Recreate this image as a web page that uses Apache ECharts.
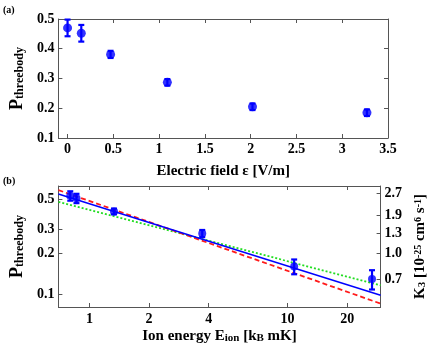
<!DOCTYPE html>
<html>
<head>
<meta charset="utf-8">
<script src="https://cdn.jsdelivr.net/npm/echarts@6/dist/echarts.min.js"></script>
<style>
  html, body { margin: 0; padding: 0; background: #fff; }
  #main { width: 436px; height: 349px; }
</style>
</head>
<body>
<div id="main"></div>
<script>
// panel (a): P_threebody against electric field
var fieldE = [0, 0.15, 0.47, 1.09, 2.02, 3.27];
var pField = [0.470, 0.452, 0.381, 0.287, 0.205, 0.185];
var errField = [0.028, 0.028, 0.012, 0.011, 0.011, 0.011];
var fieldTicks = [0, 0.5, 1, 1.5, 2, 2.5, 3, 3.5];

// panel (b): P_threebody against ion energy (log-log)
var ionE = [0.80, 0.86, 1.33, 3.71, 10.8, 26.7];
var pIon = [0.531, 0.509, 0.408, 0.281, 0.161, 0.130];
var errIon = [0.042, 0.040, 0.020, 0.017, 0.020, 0.021];
var fitE = [0.697, 29.5];
var fitBlue = [0.547, 0.0988];
var fitRed = [0.585, 0.0859];
var fitGreen = [0.480, 0.117];
var ionTicks = [1, 2, 4, 10, 20];
var pTicks = [0.1, 0.2, 0.3, 0.5];
// right axis: K3 labels and the P value each one sits at
var k3Labels = ['2.7', '1.9', '1.3', '1.0', '0.7'];
var k3AtP = [0.55, 0.38, 0.28, 0.2, 0.13];

var lg = Math.log10;
var blue = '#0000ff';
var axisCol = '#555';
var font = 'Liberation Serif';

var dom = document.getElementById('main');
var myChart = echarts.init(dom);

function errorBar(params, api) {
    var x = api.value(0);
    var a = api.coord([x, api.value(2)]);
    var b = api.coord([x, api.value(1)]);
    var w = 3;
    var st = { stroke: blue, lineWidth: 2.2 };
    return {
        type: 'group',
        children: [
            { type: 'line', shape: { x1: a[0], y1: a[1], x2: b[0], y2: b[1] }, style: st },
            { type: 'line', shape: { x1: a[0] - w, y1: a[1], x2: a[0] + w, y2: a[1] }, style: st },
            { type: 'line', shape: { x1: b[0] - w, y1: b[1], x2: b[0] + w, y2: b[1] }, style: st }
        ]
    };
}

var labelStyle = { color: '#000', fontFamily: font, fontWeight: 'bold', fontSize: 14 };
var lineStyle = { show: true, onZero: false, lineStyle: { color: axisCol, width: 1 } };
function ticks(vals) {
    var t = { show: true, inside: true, length: 4, lineStyle: { color: axisCol } };
    if (vals) t.customValues = vals;
    return t;
}
var pRich = {
    p: { fontFamily: font, fontWeight: 'bold', fontSize: 18, color: '#000', verticalAlign: 'top', lineHeight: 18 },
    s: { fontFamily: font, fontWeight: 'bold', fontSize: 12, color: '#000', verticalAlign: 'bottom', lineHeight: 12 }
};
var subRich = { fontFamily: font, fontWeight: 'bold', fontSize: 11, color: '#000', verticalAlign: 'bottom', lineHeight: 11 };

var dataA = fieldE.map(function (x, i) { return [x, pField[i]]; });
var barsA = fieldE.map(function (x, i) { return [x, pField[i] - errField[i], pField[i] + errField[i]]; });
var dataB = ionE.map(function (x, i) { return [lg(x), lg(pIon[i])]; });
var barsB = ionE.map(function (x, i) { return [lg(x), lg(pIon[i] - errIon[i]), lg(pIon[i] + errIon[i])]; });
function fitLine(vals) {
    return fitE.map(function (x, i) { return [lg(x), lg(vals[i])]; });
}
var k3Pos = k3AtP.map(lg);

var bxMin = lg(fitE[0]), bxMax = lg(fitE[1]);
var byMin = -1.091, byMax = -0.203;

option = {
    animation: false,
    graphic: [
        { type: 'text', left: 3, top: 5, style: { text: '(a)', fontFamily: font, fontWeight: 'bold', fontSize: 10, fill: '#000' } },
        { type: 'text', left: 3, top: 176, style: { text: '(b)', fontFamily: font, fontWeight: 'bold', fontSize: 10, fill: '#000' } }
    ],
    grid: [
        { left: 49, right: 48, top: 19, height: 119 },
        { left: 49, right: 48, top: 186, height: 121 }
    ],
    xAxis: [
        {
            gridIndex: 0, type: 'value', min: -0.1, max: 3.5, position: 'bottom',
            axisLine: lineStyle, axisTick: ticks(fieldTicks), splitLine: { show: false },
            axisLabel: Object.assign({ customValues: fieldTicks, margin: 4, formatter: function (v) { return String(v); } }, labelStyle),
            name: 'Electric field ε [V/m]', nameLocation: 'middle', nameGap: 26,
            nameTextStyle: { fontFamily: font, fontWeight: 'bold', fontSize: 15, color: '#000' }
        },
        {
            gridIndex: 0, type: 'value', min: -0.1, max: 3.5, position: 'top',
            axisLine: lineStyle, axisTick: ticks(fieldTicks), axisLabel: { show: false }, splitLine: { show: false }
        },
        {
            gridIndex: 1, type: 'value', min: bxMin, max: bxMax, position: 'bottom',
            axisLine: lineStyle, axisTick: ticks(ionTicks.map(lg)), splitLine: { show: false },
            axisLabel: Object.assign({ customValues: ionTicks.map(lg), margin: 5,
                formatter: function (v) { return String(Math.round(Math.pow(10, v))); } }, labelStyle),
            name: 'Ion energy E{s|ion} [k{s|B} mK]', nameLocation: 'middle', nameGap: 22,
            nameTextStyle: {
                fontFamily: font, fontWeight: 'bold', fontSize: 15, color: '#000',
                rich: { s: subRich }
            }
        },
        {
            gridIndex: 1, type: 'value', min: bxMin, max: bxMax, position: 'top',
            axisLine: lineStyle, axisTick: ticks(ionTicks.map(lg)), axisLabel: { show: false }, splitLine: { show: false }
        }
    ],
    yAxis: [
        {
            gridIndex: 0, type: 'value', min: 0.1, max: 0.5, interval: 0.1, position: 'left',
            axisLine: lineStyle, axisTick: ticks(), splitLine: { show: false },
            axisLabel: Object.assign({ margin: 4, formatter: function (v) { return v.toFixed(1); } }, labelStyle),
            name: '{p|P}{s|threebody}', nameLocation: 'middle', nameGap: 27, nameRotate: 90,
            nameTextStyle: { rich: pRich }
        },
        {
            gridIndex: 0, type: 'value', min: 0.1, max: 0.5, interval: 0.1, position: 'right',
            axisLine: lineStyle, axisTick: ticks(), axisLabel: { show: false }, splitLine: { show: false }
        },
        {
            gridIndex: 1, type: 'value', min: byMin, max: byMax, position: 'left',
            axisLine: lineStyle, axisTick: ticks(pTicks.map(lg)), splitLine: { show: false },
            axisLabel: Object.assign({ customValues: pTicks.map(lg), margin: 4,
                formatter: function (v) { return Math.pow(10, v).toFixed(1); } }, labelStyle),
            name: '{p|P}{s|threebody}', nameLocation: 'middle', nameGap: 27, nameRotate: 90,
            nameTextStyle: { rich: pRich }
        },
        {
            gridIndex: 1, type: 'value', min: byMin, max: byMax, position: 'right',
            axisLine: lineStyle, axisTick: ticks(k3Pos),
            splitLine: { show: false },
            axisLabel: Object.assign({ customValues: k3Pos, margin: 4,
                formatter: function (v) {
                    var best = 0;
                    k3Pos.forEach(function (p, i) { if (Math.abs(p - v) < Math.abs(k3Pos[best] - v)) best = i; });
                    return k3Labels[best];
                } }, labelStyle),
            name: 'K{s|3} [10{u|-25} cm{u|6} s{u|-1}]', nameLocation: 'middle', nameGap: 27, nameRotate: 90,
            nameTextStyle: {
                fontFamily: font, fontWeight: 'bold', fontSize: 15, color: '#000', verticalAlign: 'middle',
                rich: {
                    s: subRich,
                    u: { fontFamily: font, fontWeight: 'bold', fontSize: 10, color: '#000', verticalAlign: 'top', lineHeight: 10 }
                }
            }
        }
    ],
    series: [
        { type: 'custom', xAxisIndex: 0, yAxisIndex: 0, renderItem: errorBar, data: barsA, encode: { x: 0, y: [1, 2] }, z: 3 },
        { type: 'scatter', xAxisIndex: 0, yAxisIndex: 0, data: dataA, symbolSize: 9, itemStyle: { color: blue }, z: 4 },
        { type: 'line', xAxisIndex: 2, yAxisIndex: 2, data: fitLine(fitGreen), showSymbol: false,
          lineStyle: { color: '#22dd22', width: 1.8, type: [2, 2] }, z: 2 },
        { type: 'line', xAxisIndex: 2, yAxisIndex: 2, data: fitLine(fitRed), showSymbol: false,
          lineStyle: { color: '#ff1a1a', width: 1.8, type: [5, 3] }, z: 2 },
        { type: 'line', xAxisIndex: 2, yAxisIndex: 2, data: fitLine(fitBlue), showSymbol: false,
          lineStyle: { color: blue, width: 1.5 }, z: 2 },
        { type: 'custom', xAxisIndex: 2, yAxisIndex: 2, renderItem: errorBar, data: barsB, encode: { x: 0, y: [1, 2] }, z: 3 },
        { type: 'scatter', xAxisIndex: 2, yAxisIndex: 2, data: dataB, symbolSize: 8, itemStyle: { color: blue }, z: 4 }
    ]
};

if (option && typeof option === "object") {
    myChart.setOption(option, true);
}
</script>
</body>
</html>
